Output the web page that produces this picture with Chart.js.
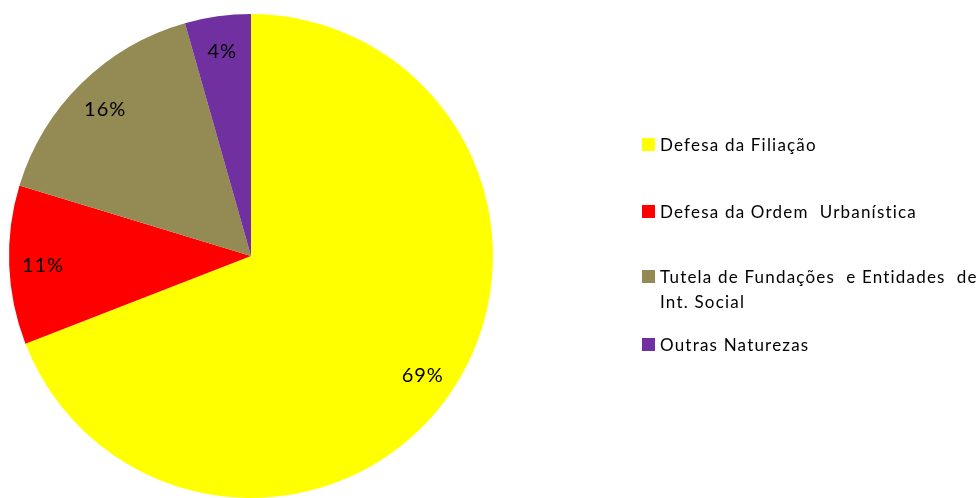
<!DOCTYPE html>
<html>
<head>
<meta charset="utf-8">
<script src="https://cdn.jsdelivr.net/npm/chart.js@4"></script>
<style>
  body { margin: 0; background: #fff; }
  #wrap { position: relative; width: 978px; height: 498px; }
  #legend { position: absolute; left: 642px; top: 0; font-family: Lato, "Open Sans", sans-serif; font-size: 17px; letter-spacing: 1.2px; color: #000; }
  .item { position: absolute; left: 0; width: 336px; display: flex; line-height: 25px; }
  .box { width: 13px; height: 13px; margin: 6px 5px 0 0; flex: none; }
</style>
</head>
<body>
<div id="wrap">
  <canvas id="pie" width="978" height="498"></canvas>
  <div id="legend"></div>
</div>
<script>
// Data (shares; labels shown rounded)
const labels = ['Defesa da Filiação', 'Defesa da Ordem  Urbanística', 'Tutela de Fundações  e Entidades  de Int. Social', 'Outras Naturezas'];
const values = [69.1, 10.6, 15.9, 4.4];
const colors = ['#FFFF00', '#FF0000', '#948A54', '#7030A0'];
const legendTops = [132, 199, 264, 332];

// Legend
const legend = document.getElementById('legend');
labels.forEach((l, i) => {
  const item = document.createElement('div');
  item.className = 'item';
  item.style.top = legendTops[i] + 'px';
  item.innerHTML = '<span class="box" style="background:' + colors[i] + '"></span><span style="white-space:pre-wrap">' + l + '</span>';
  legend.appendChild(item);
});

// Percent labels
const pctLabels = {
  id: 'pctLabels',
  afterDatasetsDraw(chart) {
    const ctx = chart.ctx;
    const meta = chart.getDatasetMeta(0);
    ctx.save();
    ctx.font = '20px Lato, "Open Sans", sans-serif';
    ctx.letterSpacing = '1px';
    ctx.fillStyle = '#000';
    ctx.textAlign = 'center';
    ctx.textBaseline = 'middle';
    meta.data.forEach((arc, i) => {
      const mid = (arc.startAngle + arc.endAngle) / 2;
      const r = arc.outerRadius * 0.86;
      ctx.fillText(Math.round(values[i]) + '%', arc.x + Math.cos(mid) * r, arc.y + Math.sin(mid) * r + 2);
    });
    ctx.restore();
  }
};

const pie = document.getElementById('pie').getContext('2d');
new Chart(pie, {
  type: 'pie',
  data: {
    labels: labels,
    datasets: [{
      data: values,
      backgroundColor: colors,
      borderWidth: 0
    }]
  },
  options: {
    responsive: false,
    animation: false,
    plugins: {
      legend: { display: false },
      tooltip: { enabled: false }
    },
    layout: {
      padding: { left: 9, right: 485, top: 14, bottom: 0 }
    }
  },
  plugins: [pctLabels]
});
</script>
</body>
</html>
